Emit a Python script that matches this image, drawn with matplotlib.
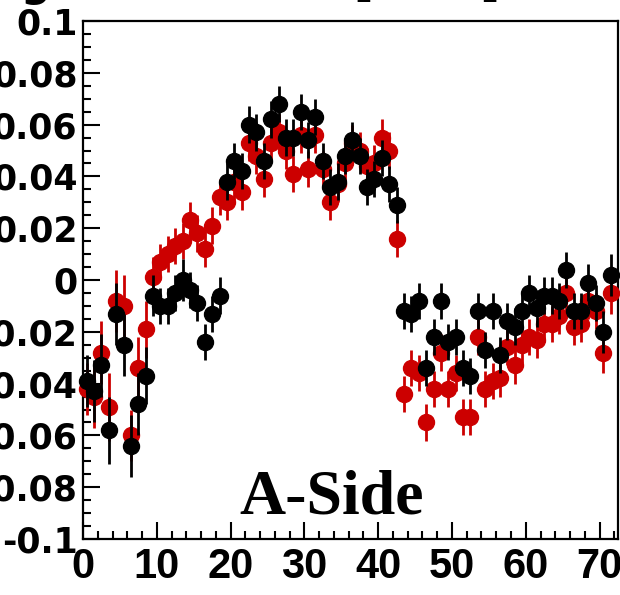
import numpy as np
import matplotlib
matplotlib.use("Agg")
import matplotlib.pyplot as plt
from matplotlib.ticker import MultipleLocator

# --- data ---
bins = np.arange(72) + 0.5

red_vals = [-0.042, -0.045, -0.028, -0.049, -0.008, -0.010, -0.060, -0.034, -0.019, 0.001,
            0.007, 0.010, 0.013, 0.015, 0.023, 0.018, 0.012, 0.021, 0.032, 0.030,
            0.038, 0.034, 0.053, 0.048, 0.039, 0.053, 0.057, 0.050, 0.041, 0.056,
            0.043, 0.056, 0.043, 0.030, 0.037, 0.045, 0.053, 0.050, 0.044, 0.045,
            0.055, 0.050, 0.016, -0.044, -0.034, -0.036, -0.055, -0.042, -0.028, -0.042,
            -0.036, -0.053, -0.053, -0.022, -0.042, -0.039, -0.038, -0.026, -0.033, -0.025,
            -0.022, -0.023, -0.017, -0.017, -0.014, -0.005, -0.018, -0.017, -0.008, -0.012,
            -0.028, -0.005]
red_errs = [0.010, 0.012, 0.012, 0.013, 0.012, 0.012, 0.010, 0.012, 0.011, 0.008,
            0.007, 0.007, 0.007, 0.007, 0.007, 0.007, 0.007, 0.007, 0.007, 0.007,
            0.007, 0.007, 0.007, 0.007, 0.007, 0.007, 0.007, 0.007, 0.007, 0.007,
            0.007, 0.007, 0.007, 0.007, 0.007, 0.007, 0.007, 0.007, 0.007, 0.007,
            0.007, 0.007, 0.007, 0.007, 0.007, 0.007, 0.007, 0.007, 0.007, 0.007,
            0.007, 0.007, 0.007, 0.007, 0.007, 0.007, 0.007, 0.007, 0.007, 0.007,
            0.007, 0.007, 0.007, 0.007, 0.007, 0.007, 0.007, 0.007, 0.007, 0.007,
            0.008, 0.008]

black_vals = [-0.039, -0.043, -0.033, -0.058, -0.013, -0.025, -0.064, -0.048, -0.037, -0.006,
              -0.010, -0.010, -0.005, 0.000, -0.004, -0.009, -0.024, -0.013, -0.006, 0.038,
              0.046, 0.042, 0.060, 0.057, 0.046, 0.062, 0.068, 0.055, 0.055, 0.065,
              0.054, 0.063, 0.046, 0.036, 0.038, 0.048, 0.054, 0.048, 0.036, 0.039,
              0.047, 0.037, 0.029, -0.012, -0.013, -0.008, -0.034, -0.022, -0.008, -0.024,
              -0.022, -0.034, -0.037, -0.012, -0.027, -0.012, -0.029, -0.016, -0.018, -0.012,
              -0.005, -0.011, -0.006, -0.006, -0.008, 0.004, -0.012, -0.012, -0.001, -0.009,
              -0.020, 0.002]
black_errs = [0.010, 0.012, 0.012, 0.013, 0.012, 0.012, 0.012, 0.012, 0.011, 0.008,
              0.007, 0.007, 0.007, 0.008, 0.007, 0.007, 0.007, 0.007, 0.007, 0.007,
              0.007, 0.007, 0.007, 0.007, 0.007, 0.007, 0.007, 0.007, 0.007, 0.007,
              0.007, 0.007, 0.007, 0.007, 0.007, 0.007, 0.007, 0.007, 0.007, 0.007,
              0.007, 0.007, 0.007, 0.007, 0.007, 0.007, 0.007, 0.007, 0.007, 0.007,
              0.007, 0.007, 0.007, 0.007, 0.007, 0.007, 0.007, 0.007, 0.007, 0.007,
              0.007, 0.007, 0.007, 0.007, 0.007, 0.007, 0.007, 0.007, 0.007, 0.007,
              0.008, 0.008]

y_ticks = [-0.1, -0.08, -0.06, -0.04, -0.02, 0.0, 0.02, 0.04, 0.06, 0.08, 0.1]
y_ticklabels = ["-0.1", "-0.08", "-0.06", "-0.04", "-0.02", "0", "0.02", "0.04", "0.06", "0.08", "0.1"]
x_ticks = [0, 10, 20, 30, 40, 50, 60, 70]

# --- figure ---
fig = plt.figure(figsize=(6.2, 5.95), dpi=100)
ax = fig.add_axes([83 / 620, 56 / 595, 535 / 620, 518 / 595])

red = "#cc0000"
ax.errorbar(bins, red_vals, yerr=red_errs, fmt="o", color=red, ms=11.5,
            elinewidth=2, capsize=0, clip_on=False, zorder=3)
ax.errorbar(bins, black_vals, yerr=black_errs, fmt="o", color="black", ms=11.5,
            elinewidth=2, capsize=0, clip_on=False, zorder=4)

ax.set_xlim(0, 72.5)
ax.set_ylim(-0.1, 0.1)

ax.set_xticks(x_ticks)
ax.set_xticklabels([str(t) for t in x_ticks])
ax.set_yticks(y_ticks)
ax.set_yticklabels(y_ticklabels)
ax.xaxis.set_minor_locator(MultipleLocator(2))
ax.yaxis.set_minor_locator(MultipleLocator(0.005))

ax.tick_params(which="both", direction="in", top=False, right=False, width=1.5)
ax.tick_params(which="major", length=12)
ax.tick_params(which="minor", length=6)
ax.tick_params(axis="y", which="major", pad=4)
ax.tick_params(axis="x", which="major", pad=5.5)
# y labels wide and bold (the left part is cut by the picture edge)
for lab in ax.get_yticklabels():
    lab.set_fontfamily("DejaVu Sans")
    lab.set_fontweight("bold")
    lab.set_fontsize(25)
for lab in ax.get_xticklabels():
    lab.set_fontfamily("Liberation Sans")
    lab.set_fontweight("bold")
    lab.set_fontsize(30)

for sp in ax.spines.values():
    sp.set_linewidth(1.6)

ax.text(0.465, 0.05, "A-Side", transform=ax.transAxes, ha="center", va="baseline",
        fontsize=46, fontweight="bold", family="Liberation Serif")

# title cut off at the top edge of the picture
fig.text(20 / 620, 1 + 4 / 595, "g", fontsize=30, fontweight="bold", va="baseline")
fig.text(353 / 620, 1 + 4 / 595, "[", fontsize=30, fontweight="bold", va="baseline")
fig.text(480 / 620, 1 + 4 / 595, "]", fontsize=30, fontweight="bold", va="baseline")

fig.savefig("out.png", dpi=100)
